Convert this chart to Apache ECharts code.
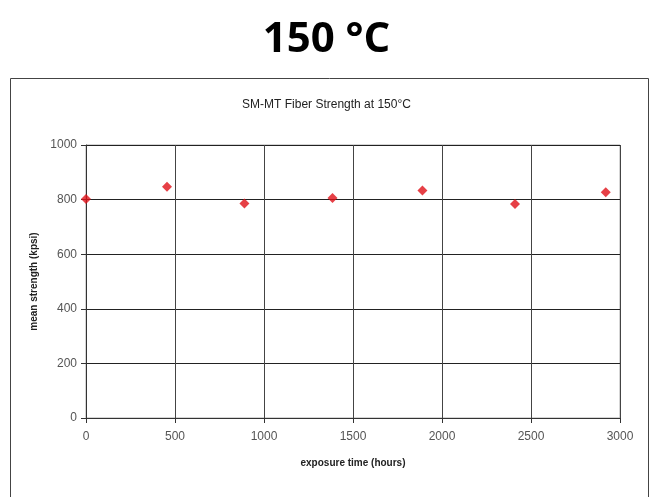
<!DOCTYPE html>
<html><head><meta charset="utf-8">
<script src="https://cdn.jsdelivr.net/npm/echarts@6/dist/echarts.min.js"></script>
<style>html,body{margin:0;padding:0;background:#fff}#c{width:653px;height:497px}</style>
</head><body><div id="c"></div>
<script>
const hours = [0, 455, 890, 1385, 1890, 2410, 2920];
const strength = [802, 847, 786, 806, 833, 784, 827];
const xTicks = [0, 500, 1000, 1500, 2000, 2500, 3000];
const yTicks = [0, 200, 400, 600, 800, 1000];

const chart = echarts.init(document.getElementById('c'), null, {renderer: 'canvas'});
chart.setOption({
  animation: false,
  backgroundColor: '#fff',
  title: [
    {text: '150 °C', left: 'center', top: 14,
     textStyle: {fontFamily: 'Open Sans', fontWeight: 'bold', fontSize: 42, color: '#000'}},
    {text: 'SM-MT Fiber Strength at 150°C', left: 'center', top: 94,
     textStyle: {fontFamily: 'Liberation Sans', fontWeight: 'normal', fontSize: 12, color: '#222'}}
  ],
  graphic: [
    {type: 'rect', shape: {x: 10.5, y: 78.5, width: 638, height: 440},
     style: {fill: 'none', stroke: '#444', lineWidth: 1}, z: -1}
  ],
  grid: {left: 86, right: 33, top: 145, bottom: 79, show: true, borderColor: '#aaa', borderWidth: 1},
  xAxis: {
    type: 'value', min: xTicks[0], max: xTicks[xTicks.length - 1], interval: 500,
    name: 'exposure time (hours)', nameLocation: 'middle', nameGap: 40,
    nameTextStyle: {fontFamily: 'Liberation Sans', fontWeight: 'bold', fontSize: 10, color: '#222'},
    axisLine: {show: true, lineStyle: {color: '#333'}},
    axisTick: {show: true, length: 5, inside: false, lineStyle: {color: '#333'}},
    axisLabel: {fontFamily: 'Liberation Sans', fontSize: 12, color: '#555', margin: 13,
                formatter: v => String(v)},
    splitLine: {show: true, lineStyle: {color: '#444', width: 1}}
  },
  yAxis: {
    type: 'value', min: yTicks[0], max: yTicks[yTicks.length - 1], interval: 200,
    name: 'mean strength (kpsi)', nameLocation: 'middle', nameGap: 47, nameRotate: 90,
    nameTextStyle: {fontFamily: 'Liberation Sans', fontWeight: 'bold', fontSize: 10, color: '#222'},
    axisLine: {show: true, lineStyle: {color: '#333'}},
    axisTick: {show: true, length: 5, lineStyle: {color: '#333'}},
    axisLabel: {fontFamily: 'Liberation Sans', fontSize: 12, color: '#555', margin: 9,
                formatter: v => String(v)},
    splitLine: {show: true, lineStyle: {color: '#222', width: 1}}
  },
  series: [{
    type: 'scatter',
    data: hours.map((h, i) => [h, strength[i]]),
    symbol: 'diamond', symbolSize: 10,
    itemStyle: {color: '#e01018'},
    z: 5
  }]
});
</script></body></html>
